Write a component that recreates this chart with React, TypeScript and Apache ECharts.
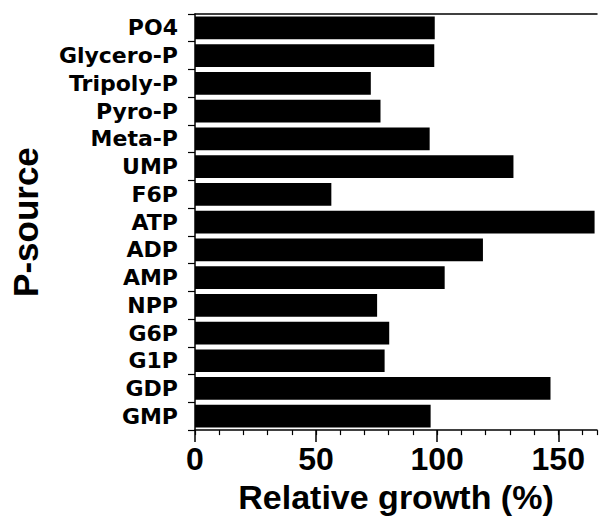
import React, { useEffect, useRef } from "react";
import * as echarts from "echarts";

const categories = [
  "PO4", "Glycero-P", "Tripoly-P", "Pyro-P", "Meta-P", "UMP", "F6P", "ATP",
  "ADP", "AMP", "NPP", "G6P", "G1P", "GDP", "GMP",
];
const growth = [99, 98.8, 72.6, 76.6, 96.9, 131.5, 56.3, 165, 118.9, 103.1, 75.2, 80.2, 78.3, 146.8, 97.3];
const xMin = 0;
const xMax = 166;
const majorTicks = [0, 50, 100, 150];
const xTitle = "Relative growth (%)";
const yTitle = "P-source";

export default function App() {
  const ref = useRef<HTMLDivElement>(null);
  useEffect(() => {
    if (!ref.current) return;
    const chart = echarts.init(ref.current, null, { renderer: "svg" });
    const lab = "Liberation Sans";
    chart.setOption({
      animation: false,
      grid: { left: 194, right: 0, top: 14, bottom: 86, containLabel: false },
      xAxis: [
        {
          type: "value", position: "bottom", min: xMin, max: xMax, interval: 10,
          splitLine: { show: false },
          axisLine: { show: true, lineStyle: { color: "#000", width: 1.5 } },
          axisTick: { show: true, length: 5, lineStyle: { color: "#000", width: 1.2 } },
          axisLabel: {
            margin: 13, color: "#000", fontFamily: lab, fontWeight: "bold", fontSize: 32,
            formatter: (v: number) => (majorTicks.includes(v) ? String(v) : ""),
          },
          name: xTitle, nameLocation: "middle", nameGap: 43,
          nameTextStyle: { color: "#000", fontFamily: lab, fontWeight: "bold", fontSize: 34 },
        },
        {
          type: "value", position: "bottom", min: xMin, max: xMax, interval: 50,
          splitLine: { show: false },
          axisLine: { show: false },
          axisTick: { show: true, length: 12, customValues: majorTicks, lineStyle: { color: "#000", width: 1.5 } },
          axisLabel: { show: false },
        },
        {
          type: "value", position: "top", min: xMin, max: xMax,
          splitLine: { show: false },
          axisLine: { show: true, lineStyle: { color: "#000", width: 1.5 } },
          axisTick: { show: false },
          axisLabel: { show: false },
        },
      ],
      yAxis: {
        type: "category", data: categories, inverse: true,
        axisLine: { show: true, lineStyle: { color: "#000", width: 1.5 } },
        axisTick: { show: true, length: 7, lineStyle: { color: "#000", width: 1.2 } },
        axisLabel: {
          interval: 0, margin: 17, color: "#000", fontFamily: "DejaVu Sans", fontWeight: "bold", fontSize: 22,
        },
        name: yTitle, nameLocation: "middle", nameGap: 152, nameRotate: 90,
        nameTextStyle: { color: "#000", fontFamily: lab, fontWeight: "bold", fontSize: 35 },
      },
      series: [
        {
          type: "bar", data: growth, xAxisIndex: 0,
          barCategoryGap: "18%",
          itemStyle: { color: "#000" },
        },
      ],
    });
    return () => chart.dispose();
  }, []);
  return (
    <div
      ref={ref}
      style={{ position: "absolute", left: 0, top: 0, width: 600, height: 519, background: "#fff" }}
    />
  );
}
